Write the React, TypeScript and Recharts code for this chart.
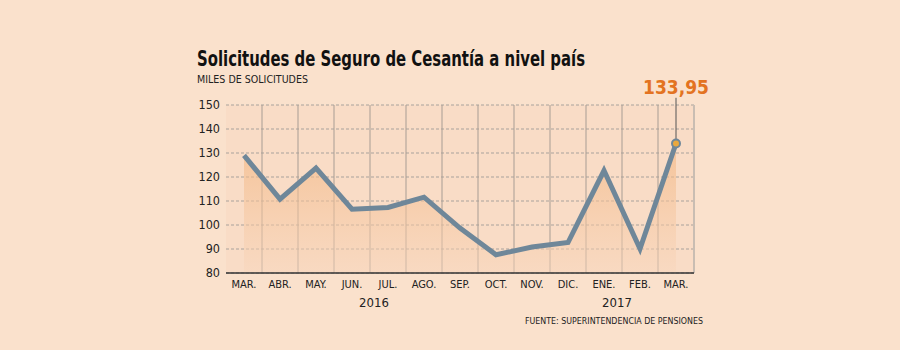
import React from "react";
import {
  ComposedChart,
  Area,
  Line,
  XAxis,
  YAxis,
  CartesianGrid,
  ReferenceDot,
  ReferenceLine,
  Label,
} from "recharts";

const monthIds = ["m03-16", "m04-16", "m05-16", "m06-16", "m07-16", "m08-16", "m09-16", "m10-16", "m11-16", "m12-16", "m01-17", "m02-17", "m03-17"];
const monthLabels = ["MAR.", "ABR.", "MAY.", "JUN.", "JUL.", "AGO.", "SEP.", "OCT.", "NOV.", "DIC.", "ENE.", "FEB.", "MAR."];
const solicitudes = [129, 110.8, 123.7, 106.6, 107.3, 111.6, 98.7, 87.6, 90.8, 92.7, 122.7, 90.1, 133.95];
const yTicks = [80, 90, 100, 110, 120, 130, 140, 150];

const data = monthIds.map((id, i) => ({
  id,
  label: monthLabels[i],
  value: solicitudes[i],
}));

const lastIdx = data.length - 1;
const FONT = "'DejaVu Sans Condensed', 'Liberation Sans Narrow', 'DejaVu Sans', sans-serif";
const BG = "#fae1cc";

// grid lines sit on the band edges, not on the ticks
const bandEdges = ({ offset }: any) => {
  const n = data.length;
  const step = offset.width / n;
  const xs: number[] = [];
  for (let i = 1; i < n; i++) xs.push(offset.left + i * step);
  return xs;
};
const rightEdge = ({ offset }: any) => [offset.left + offset.width];

export default function App() {
  return (
    <div
      style={{
        position: "fixed",
        left: 0,
        top: 0,
        width: 900,
        height: 350,
        background: BG,
        fontFamily: FONT,
        overflow: "hidden",
      }}
    >
      <svg width={900} height={350} style={{ position: "absolute", left: 0, top: 0 }}>
        <text x={197} y={66} fontSize={20.5} fontWeight="bold" fill="#111" textLength={388} lengthAdjust="spacingAndGlyphs">
          Solicitudes de Seguro de Cesantía a nivel país
        </text>
        <text x={197} y={83} fontSize={10.5} fill="#222" textLength={111} lengthAdjust="spacingAndGlyphs">
          MILES DE SOLICITUDES
        </text>
        <text x={374} y={307} fontSize={13} fill="#222" textAnchor="middle">2016</text>
        <text x={617} y={307} fontSize={13} fill="#222" textAnchor="middle">2017</text>
        <text x={525} y={324} fontSize={9} fill="#222" textLength={178} lengthAdjust="spacingAndGlyphs">
          FUENTE: SUPERINTENDENCIA DE PENSIONES
        </text>
      </svg>
      <div style={{ position: "absolute", left: 0, top: 0 }}>
        <ComposedChart
          width={900}
          height={350}
          data={data}
          margin={{ top: 105, right: 206, left: 186, bottom: 47 }}
        >
          <defs>
            <linearGradient id="areaFill" x1="0" y1="0" x2="0" y2="1">
              <stop offset="0%" stopColor="#f2b37c" stopOpacity={1} />
              <stop offset="100%" stopColor="#f8d6bc" stopOpacity={0.8} />
            </linearGradient>
          </defs>
          <CartesianGrid
            horizontal
            vertical={false}
            stroke="#a9a29c"
            strokeDasharray="3 2"
            fill="#f9dcc6"
          />
          <CartesianGrid
            horizontal={false}
            verticalCoordinatesGenerator={bandEdges}
            stroke="#a89d94"
            strokeWidth={1}
          />
          <CartesianGrid
            horizontal={false}
            verticalCoordinatesGenerator={rightEdge}
            stroke="#c9bdb2"
            strokeWidth={2}
          />
          <XAxis
            dataKey="id"
            tickFormatter={(v: string, i: number) => monthLabels[i]}
            axisLine={{ stroke: "#333", strokeWidth: 1.5 }}
            tickLine={false}
            interval={0}
            height={30}
            padding={{ left: 18, right: 18 }}
            tick={{ fontSize: 11, fill: "#222", fontFamily: FONT }}
            tickMargin={1}
          />
          <YAxis
            domain={[80, 150]}
            ticks={yTicks}
            width={40}
            axisLine={false}
            tickLine={false}
            tick={{ fontSize: 12.5, fill: "#222", fontFamily: FONT }}
            tickMargin={0}
          />
          <Area
            type="linear"
            dataKey="value"
            baseValue={80}
            stroke="none"
            fill="url(#areaFill)"
            isAnimationActive={false}
          />
          <Line
            type="linear"
            dataKey="value"
            stroke="#6f8799"
            strokeWidth={5}
            dot={false}
            activeDot={false}
            isAnimationActive={false}
          />
          <ReferenceLine
            segment={[
              { x: monthIds[lastIdx], y: solicitudes[lastIdx] },
              { x: monthIds[lastIdx], y: 153 },
            ]}
            stroke="#555"
            strokeWidth={1}
            ifOverflow="visible"
          >
            <Label
              value="133,95"
              position="top"
              offset={4}
              fill="#e37321"
              fontSize={19}
              fontWeight="bold"
              fontFamily={FONT}
            />
          </ReferenceLine>
          <ReferenceDot
            x={monthIds[lastIdx]}
            y={solicitudes[lastIdx]}
            r={4}
            fill="#e9a83e"
            stroke="#6f8799"
            strokeWidth={2}
            ifOverflow="visible"
          />
        </ComposedChart>
      </div>
    </div>
  );
}
